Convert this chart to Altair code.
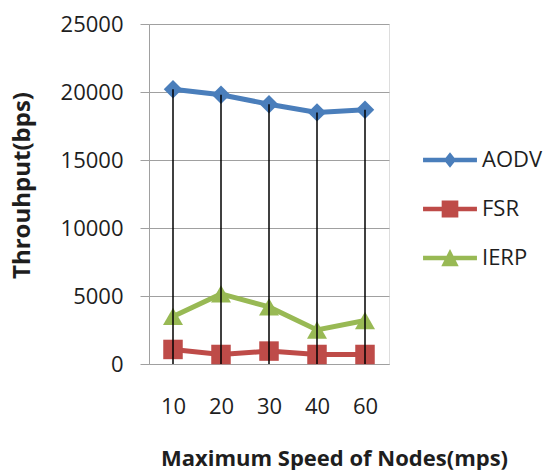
import altair as alt
import pandas as pd

speeds = ["10", "20", "30", "40", "60"]
series_names = ["AODV", "FSR", "IERP"]
aodv = [20200, 19800, 19100, 18500, 18700]
fsr = [1070, 700, 950, 700, 700]
ierp = [3500, 5150, 4200, 2500, 3200]
y_ticks = [0, 5000, 10000, 15000, 20000, 25000]
colors = ["#4A7EBB", "#BE4B48", "#98B954"]
marker_shapes = ["diamond", "square", "triangle-up"]
marker_sizes = [340, 380, 400]

x_title = "Maximum Speed of Nodes(mps)"
y_title = "Throuhput(bps)"

rows = []
for name, vals in zip(series_names, [aodv, fsr, ierp]):
    for s, v in zip(speeds, vals):
        rows.append({"speed": s, "series": name, "value": v})
df = pd.DataFrame(rows)

TXT = "#1e1e1e"
GRID = "#A0A0A0"
FONT = "Open Sans"

# legend symbols: line segment + marker (custom paths in unit coords)
line_path = "M-1.1,-0.09H1.1V0.09H-1.1Z"
legend_paths = [
    line_path + "M0,-0.32L0.25,0L0,0.32L-0.25,0Z",
    line_path + "M-0.34,-0.35H0.34V0.35H-0.34Z",
    line_path + "M0,-0.37L0.355,0.34H-0.355Z",
]

x_enc = alt.X(
    "speed:O",
    sort=speeds,
    scale=alt.Scale(type="point", padding=0.5),
    axis=alt.Axis(
        labelAngle=0, ticks=False, domainColor=GRID, domainWidth=1,
        labelFont=FONT, labelFontSize=22, labelColor=TXT,
        labelBaseline="alphabetic", labelPadding=49,
        title=x_title, titleFont=FONT, titleFontSize=22, titleFontWeight="bold",
        titleColor=TXT, titleX=185, titleY=101, titleAlign="center",
        titleBaseline="alphabetic",
    ),
)
y_enc = alt.Y(
    "value:Q",
    scale=alt.Scale(domain=[0, 25000], nice=False),
    axis=alt.Axis(
        values=y_ticks, format="d", grid=True, gridColor=GRID, gridWidth=1,
        domainColor=GRID, domainWidth=1, tickColor=GRID, tickSize=9, tickWidth=1,
        labelFont=FONT, labelFontSize=22, labelColor=TXT, labelPadding=17,
        title=y_title, titleFont=FONT, titleFontSize=24, titleFontWeight="bold",
        titleColor=TXT, titleAngle=270, titleX=-120, titleY=161,
        titleAlign="center", titleBaseline="alphabetic",
    ),
)

base = alt.Chart(df)

layers = []
for name, col in zip(series_names, colors):
    layers.append(
        base.transform_filter(alt.datum.series == name)
        .mark_line(strokeWidth=5, color=col)
        .encode(x=x_enc, y=y_enc)
    )

for name, col, shp, sz in zip(series_names, colors, marker_shapes, marker_sizes):
    layers.append(
        base.transform_filter(alt.datum.series == name)
        .mark_point(filled=True, shape=shp, size=sz, opacity=1, color=col)
        .encode(x=x_enc, y=y_enc)
    )

drops = base.transform_filter(alt.datum.series == series_names[0]).mark_rule(
    color="black", strokeWidth=1.5
).encode(x=x_enc, y=y_enc, y2=alt.datum(0))
layers.append(drops)

legend_props = dict(
    orient="none", legendX=276.5, legendY=111.5, title=None,
    symbolSize=2401, symbolStrokeWidth=0, symbolOpacity=1,
    labelFont=FONT, labelFontSize=22, labelColor=TXT,
    labelOffset=7.5, rowPadding=13, padding=0, labelLimit=300,
)
legend_layer = base.mark_point(filled=True, opacity=0).encode(
    x=x_enc, y=y_enc,
    color=alt.Color(
        "series:N", scale=alt.Scale(domain=series_names, range=colors),
        legend=alt.Legend(**legend_props),
    ),
    shape=alt.Shape(
        "series:N",
        scale=alt.Scale(domain=series_names, range=legend_paths),
        legend=alt.Legend(**legend_props),
    ),
)
layers.append(legend_layer)

chart = alt.layer(*layers).properties(
    width=240,
    height=340,
    autosize=alt.AutoSizeParams(type="none"),
    padding={"left": 149, "top": 24, "right": 156, "bottom": 106},
    background="white",
).configure_view(stroke=None).configure(font=FONT)

chart.save("out.html", embed_options={"renderer": "svg", "actions": False})
